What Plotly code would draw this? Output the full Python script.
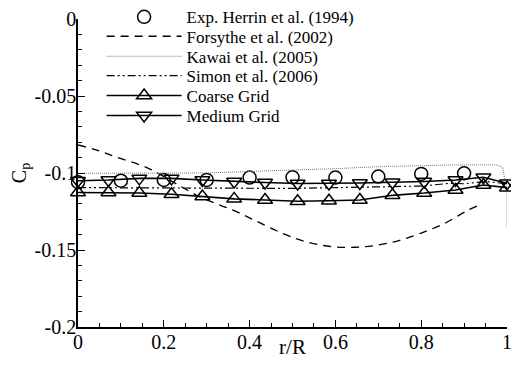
import plotly.graph_objects as go

# Experimental data (Herrin et al. 1994)
exp_x = [0.0, 0.1, 0.2, 0.3, 0.4, 0.5, 0.6, 0.7, 0.8, 0.9]
exp_y = [-0.106, -0.105, -0.1045, -0.1045, -0.103, -0.1028, -0.103, -0.1023, -0.1006, -0.1002]

# Forsythe et al. (2002)
fors_x = [0.0, 0.042, 0.086, 0.163, 0.22, 0.254, 0.29, 0.36, 0.41, 0.475, 0.53, 0.59, 0.645, 0.69, 0.746, 0.80, 0.856, 0.91, 0.93]
fors_y = [-0.0818, -0.085, -0.0894, -0.0968, -0.1056, -0.111, -0.1163, -0.124, -0.1305, -0.139, -0.1445, -0.1478, -0.1482, -0.1472, -0.144, -0.139, -0.1325, -0.124, -0.1215]

# Kawai et al. (2005)
kawai_x = [0.0, 0.2, 0.3, 0.4, 0.5, 0.6, 0.71, 0.8, 0.87, 0.95, 0.977, 0.99, 0.995, 1.0, 1.0]
kawai_y = [-0.1002, -0.1001, -0.1, -0.099, -0.0982, -0.0972, -0.0958, -0.0952, -0.0948, -0.0947, -0.0948, -0.0965, -0.1045, -0.108, -0.1357]

# Simon et al. (2006)
simon_x = [0.0, 0.2, 0.4, 0.5, 0.7, 0.8, 0.867, 0.9, 0.95, 1.0]
simon_y = [-0.1095, -0.1098, -0.110, -0.110, -0.109, -0.1085, -0.1067, -0.107, -0.1055, -0.107]

# Grid results
grid_x = [0.0, 0.071, 0.143, 0.218, 0.29, 0.364, 0.436, 0.512, 0.585, 0.657, 0.733, 0.807, 0.88, 0.945, 1.0]
coarse_y = [-0.1127, -0.1127, -0.113, -0.1138, -0.1153, -0.1168, -0.1175, -0.1183, -0.118, -0.1175, -0.1145, -0.113, -0.111, -0.1078, -0.1095]
medium_y = [-0.105, -0.1045, -0.1035, -0.1035, -0.1045, -0.1055, -0.1062, -0.1068, -0.1068, -0.1065, -0.106, -0.1055, -0.1045, -0.1028, -0.1067]

y_tickvals = [0, -0.05, -0.1, -0.15, -0.2]
y_ticktext = ["0", "-0.05", "-0.1", "-0.15", "-0.2"]
x_tickvals = [0, 0.2, 0.4, 0.6, 0.8, 1.0]
x_ticktext = ["0", "0.2", "0.4", "0.6", "0.8", "1"]

FONT = "Liberation Serif"

fig = go.Figure()
fig.add_trace(go.Scatter(x=exp_x, y=exp_y, mode="markers", name="Exp. Herrin et al. (1994)", legend="legend",
                         cliponaxis=False,
                         marker=dict(symbol="circle-open", size=13, color="black", line=dict(width=1.5))))
fig.add_trace(go.Scatter(x=fors_x, y=fors_y, mode="lines", name="Forsythe et al. (2002)", legend="legend2",
                         cliponaxis=False,
                         line=dict(color="black", width=1.3, dash="8px,6px", shape="spline")))
fig.add_trace(go.Scatter(x=kawai_x, y=kawai_y, mode="lines", name="Kawai et al. (2005)", legend="legend3",
                         cliponaxis=False,
                         line=dict(color="#777777", width=1, dash="1px,1px")))
fig.add_trace(go.Scatter(x=simon_x, y=simon_y, mode="lines", name="Simon et al. (2006)", legend="legend4",
                         cliponaxis=False,
                         line=dict(color="black", width=1.2, dash="8px,3px,2px,3px,2px,3px")))
fig.add_trace(go.Scatter(x=grid_x, y=coarse_y, mode="lines+markers", name="Coarse Grid", legend="legend5",
                         cliponaxis=False,
                         line=dict(color="black", width=1.6),
                         marker=dict(symbol="triangle-up-open", size=13, color="black", line=dict(width=1.5))))
fig.add_trace(go.Scatter(x=grid_x, y=medium_y, mode="lines+markers", name="Medium Grid", legend="legend6",
                         cliponaxis=False,
                         line=dict(color="black", width=1.6),
                         marker=dict(symbol="triangle-down-open", size=13, color="black", line=dict(width=1.5))))

legend_rows_y = [1.0055, 0.9425, 0.8776, 0.8149, 0.7500, 0.6851]
legend_names = ["legend", "legend2", "legend3", "legend4", "legend5", "legend6"]
legend_layout = {}
for name, ly in zip(legend_names, legend_rows_y):
    legend_layout[name] = dict(x=0.055, y=ly, xanchor="left", yanchor="middle", bgcolor="rgba(0,0,0,0)",
                               font=dict(size=17, family=FONT), itemwidth=75, borderwidth=0)

fig.update_layout(
    width=505, height=351,
    margin=dict(l=70, r=6, t=11, b=32, autoexpand=False),
    paper_bgcolor="white", plot_bgcolor="white",
    font=dict(family=FONT, color="black", size=20),
    xaxis=dict(range=[0, 1], showgrid=False, zeroline=False, showline=True, linecolor="black", linewidth=1.5,
               automargin=False, ticklabeloverflow="allow",
               tickmode="array", tickvals=x_tickvals, ticktext=x_ticktext, ticklabelstandoff=-4,
               ticks="inside", ticklen=7, tickwidth=1.2, tickcolor="black",
               minor=dict(tickmode="linear", tick0=0, dtick=0.05, ticks="inside", ticklen=4, tickcolor="black"),
               title=dict(text="r/R", standoff=2, font=dict(size=21, family=FONT)), tickfont=dict(size=20, family=FONT)),
    yaxis=dict(range=[-0.2, 0], showgrid=False, zeroline=False, showline=True, linecolor="black", linewidth=1.5,
               automargin=False, ticklabeloverflow="allow",
               tickmode="array", tickvals=y_tickvals, ticktext=y_ticktext, ticklabelstandoff=-4,
               ticks="inside", ticklen=7, tickwidth=1.2, tickcolor="black",
               minor=dict(tickmode="linear", tick0=0, dtick=0.01, ticks="inside", ticklen=4, tickcolor="black"),
               title=dict(text="C<sub>p</sub>", standoff=4, font=dict(size=20, family=FONT)), tickfont=dict(size=20, family=FONT)),
    showlegend=True,
    **legend_layout,
)

fig.write_html("out.html")
